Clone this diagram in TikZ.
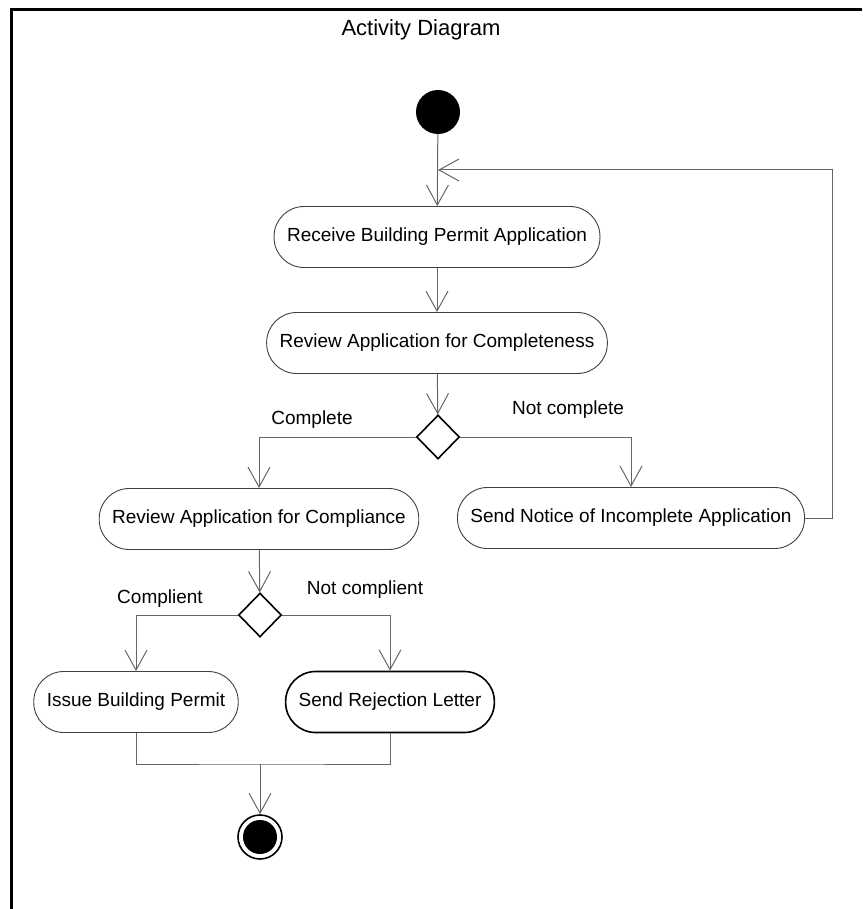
\documentclass[tikz,border=0pt]{standalone}
\usepackage{fontspec}
\setmainfont{Liberation Sans}
\usetikzlibrary{arrows.meta,shapes.geometric}

\begin{document}
\begin{tikzpicture}[x=1pt,y=-1pt,
    action/.style={rectangle,rounded corners=30pt,draw=black!75,line width=0.9pt,
      minimum height=61pt,inner xsep=13pt,font=\fontsize{19}{22}\selectfont},
    decision/.style={diamond,draw=black,line width=1.6pt,minimum width=43pt,
      minimum height=44pt,inner sep=0pt},
    guard/.style={font=\fontsize{19}{22}\selectfont},
    flow/.style={draw=black!60,line width=1pt,
      -{Straight Barb[length=20pt,width=22pt]}}]
        \useasboundingbox (0,0) rectangle (862,909);
        % frame
        \draw[line width=3pt] (11,909) -- (11,10) -- (862,10);
        \node[font=\fontsize{22}{26}\selectfont] (title) at (421,30) {Activity Diagram};

        \node[circle,fill=black,minimum size=44pt,inner sep=0pt] (start) at (438,112) {};
        \node[action] (receive) at (437,237) {Receive Building Permit Application};
        \node[action] (review) at (437,343) {Review Application for Completeness};
        \node[decision] (dec1) at (438,437) {};
        \node[action] (comply) at (259,519) {Review Application for Compliance};
        \node[action] (notice) at (631,518) {Send Notice of Incomplete Application};
        \node[decision] (dec2) at (260,615) {};
        \node[action] (issue) at (136,702) {Issue Building Permit};
        \node[action,draw=black,line width=1.6pt] (reject) at (390,702) {Send Rejection Letter};
        \node[circle,draw=black,line width=1.6pt,minimum size=44pt,inner sep=0pt,
          path picture={\fill (path picture bounding box.center) circle (17pt);}] (final) at (260,837) {};

        \coordinate (join) at (438,170);
        \coordinate (loop) at (832,170);
        \coordinate (merge) at (260,764);

        \node[guard] (lcomplete) at (312,420) {Complete};
        \node[guard] (lnotcomplete) at (568,410) {Not complete};
        \node[guard] (lcomplient) at (160,599) {Complient};
        \node[guard] (lnotcomplient) at (365,590) {Not complient};

        \begin{scope}[every edge/.style={flow}]
          \path (start) edge (receive);
          \path (receive) edge (review);
          \path (review) edge (dec1);
          \path (comply) edge (dec2);
          \path (merge) edge (final);
        \end{scope}
        \draw[flow] (dec1.west) -| (comply.north);
        \draw[flow] (dec1.east) -| (notice.north);
        \draw[flow] (notice.east) -| (loop) -- (join);
        \draw[flow] (dec2.west) -| (issue.north);
        \draw[flow] (dec2.east) -| (reject.north);
        \draw[draw=black!60,line width=1pt] (issue.south) |- (merge) -| (reject.south);
\end{tikzpicture}
\end{document}
